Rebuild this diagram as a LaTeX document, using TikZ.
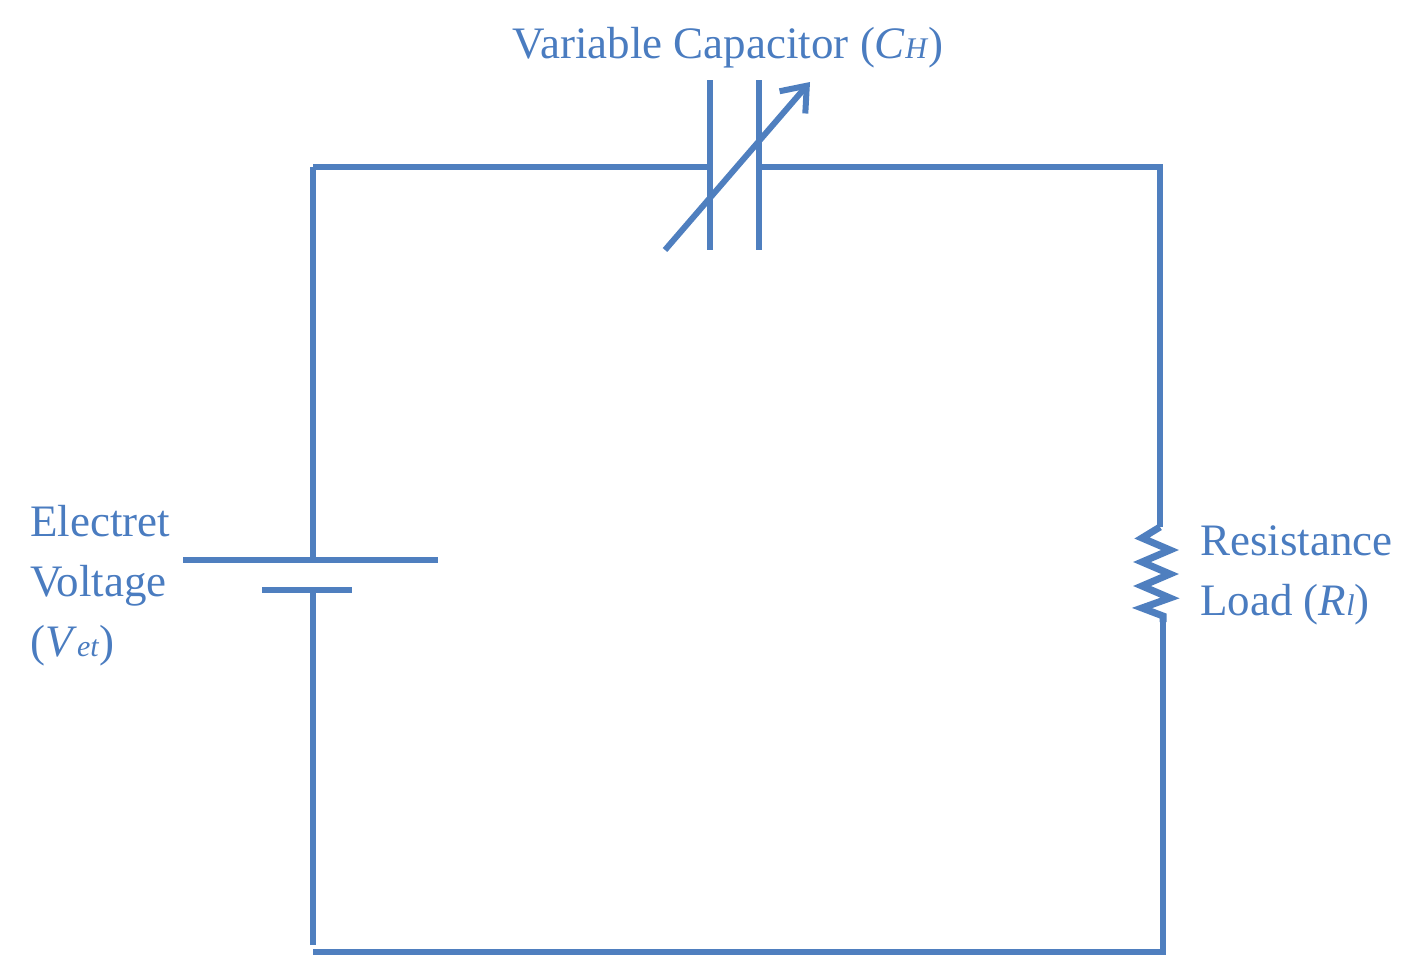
\documentclass[tikz,border=0pt]{standalone}
\usepackage{fontspec}
\setmainfont{Liberation Serif}
\usetikzlibrary{arrows.meta}
\definecolor{wire}{HTML}{4F7FBF}
\definecolor{txt}{HTML}{4A7CC0}
\begin{document}
\begin{tikzpicture}[x=1pt,y=-1pt,
  w/.style={draw=wire,line width=6pt},
  lbl/.style={text=txt,font=\fontsize{45}{60}\selectfont,inner sep=0pt}]
\useasboundingbox (0,0) rectangle (1408,972);
% coordinates
\coordinate (tl) at (313,167);
\coordinate (c1) at (710,167);
\coordinate (c2) at (759,167);
\coordinate (tr) at (1160,167);
\coordinate (r1) at (1160,527);
\coordinate (r2) at (1163,622);
\coordinate (br) at (1163,952);
\coordinate (bl) at (313,952);
\coordinate (b1) at (313,560);
\coordinate (b2) at (313,590);
\coordinate (lb) at (313,945);
% wires
\draw[w] (tl) -- (c1);
\draw[w] (c2) -- (tr) -- (r1);
\draw[w] (r2) -- (br) -- (bl);
\draw[w] (tl) -- (b1);
\draw[w] (b2) -- (lb);
% capacitor
\draw[w] (710,80) -- (710,250);
\draw[w] (759,80) -- (759,250);
\coordinate (as) at (665,250);
\coordinate (ae) at (810,82);
\draw[w,-{Straight Barb[length=22pt,width=34pt,line width=6pt]}] (as) -- (ae);
% battery
\draw[w] (183,560) -- (438,560);
\draw[w] (262,590) -- (352,590);
% resistor
\draw[w,line width=7pt,line join=miter] (r1) -- (1142,538) -- (1170,550) -- (1142,562) -- (1170,574) -- (1142,586) -- (1170,598) -- (1142,608) -- (1163,616) -- (r2);
% labels
\node[lbl,anchor=base] (cap) at (728,58) {Variable Capacitor (\textit{C}{\fontsize{30}{34}\selectfont\textit{H}})};
\node[lbl,anchor=base west] (e1) at (30,536) {Electret};
\node[lbl,anchor=base west] (e2) at (30,596) {Voltage};
\node[lbl,anchor=base west] (e3) at (30,656) {(\textit{V}{\fontsize{30}{34}\selectfont\textit{et}})};
\node[lbl,anchor=base west] (r1l) at (1200,555) {Resistance};
\node[lbl,anchor=base west] (r2l) at (1200,615) {Load (\textit{R}{\fontsize{30}{34}\selectfont\textit{l}})};
\end{tikzpicture}
\end{document}
